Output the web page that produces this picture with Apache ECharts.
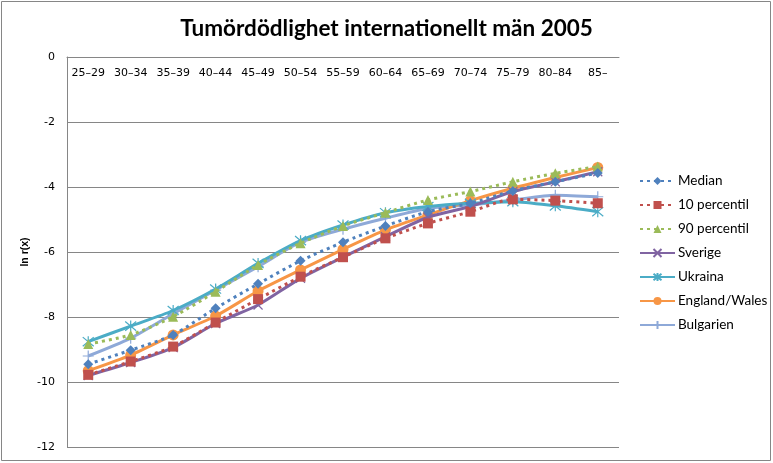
<!DOCTYPE html>
<html>
<head>
<meta charset="utf-8">
<script src="https://cdn.jsdelivr.net/npm/echarts@6/dist/echarts.min.js"></script>
<style>
html,body{margin:0;padding:0;background:#fff;}
#c{width:773px;height:463px;}
</style>
</head>
<body>
<div id="c"></div>
<script>
const categories = ['25–29','30–34','35–39','40–44','45–49','50–54','55–59','60–64','65–69','70–74','75–79','80–84','85–'];
const yTicks = [0,-2,-4,-6,-8,-10,-12];
const median   = [-9.45,-9.02,-8.55,-7.73,-6.98,-6.27,-5.70,-5.20,-4.76,-4.50,-4.12,-3.84,-3.57];
const p10      = [-9.78,-9.37,-8.91,-8.17,-7.45,-6.76,-6.16,-5.58,-5.12,-4.76,-4.38,-4.42,-4.50];
const p90      = [-8.83,-8.55,-7.99,-7.22,-6.40,-5.73,-5.20,-4.79,-4.40,-4.14,-3.84,-3.58,-3.37];
const sverige  = [-9.80,-9.40,-8.94,-8.20,-7.63,-6.81,-6.16,-5.53,-4.93,-4.60,-4.14,-3.84,-3.53];
const ukraina  = [-8.76,-8.28,-7.80,-7.14,-6.35,-5.65,-5.17,-4.79,-4.60,-4.50,-4.45,-4.58,-4.76];
const england  = [-9.65,-9.17,-8.55,-7.97,-7.20,-6.55,-5.92,-5.32,-4.86,-4.42,-4.04,-3.71,-3.40];
const bulgarien= [-9.20,-8.65,-7.90,-7.17,-6.45,-5.70,-5.30,-4.96,-4.66,-4.55,-4.40,-4.25,-4.30];

const names = ['Median','10 percentil','90 percentil','Sverige','Ukraina','England/Wales','Bulgarien'];
const colors = ['#4F81BD','#C0504D','#9BBB59','#8064A2','#4BACC6','#F79646','#8EA9D8'];
const dataSets = [median,p10,p90,sverige,ukraina,england,bulgarien];
const symbols = ['diamond','rect','triangle',
  'path://M0,0L10,10M10,0L0,10',
  'path://M0,0L10,10M10,0L0,10M5,-1L5,11',
  'circle',
  'path://M5,0L5,10M0,5L10,5'];
const sizes = [10,10,10,9,11,11,11];
const dotted = [true,true,true,false,false,false,false];

const series = dataSets.map((d,i)=>({
  name: names[i],
  type: 'line',
  data: d,
  smooth: 0.25,
  symbol: symbols[i],
  symbolSize: sizes[i],
  showAllSymbol: true,
  z: 10 - i,
  lineStyle: dotted[i] ? {color: colors[i], width: 3, type: [3,4]} : {color: colors[i], width: 3},
  itemStyle: {color: colors[i], borderColor: colors[i], borderWidth: (i===3||i===4||i===6) ? 1.2 : 0},
  emphasis: {disabled: true}
}));

const chart = echarts.init(document.getElementById('c'));
chart.setOption({
  animation: false,
  backgroundColor: '#fff',
  title: {
    text: 'Tumördödlighet internationellt män 2005',
    left: 'center', top: 12,
    textStyle: {fontFamily: 'Lato', fontWeight: 'bold', fontSize: 22.5, color: '#000'}
  },
  graphic: [{
    type: 'rect', shape: {x: 1.5, y: 1.5, width: 769, height: 459},
    style: {fill: 'none', stroke: '#868686', lineWidth: 1}, silent: true, z: 0
  }],
  grid: {left: 67, top: 57, right: 154, bottom: 16, containLabel: false},
  legend: {
    orient: 'vertical', left: 634, top: 169,
    itemWidth: 35, itemHeight: 10, itemGap: 10,
    data: names,
    textStyle: {fontFamily: 'Lato', fontSize: 13.5, color: '#000', padding: [0,0,0,-2]}
  },
  xAxis: {
    type: 'category', data: categories, position: 'top', boundaryGap: true,
    axisLine: {show: true, lineStyle: {color: '#868686', width: 1}},
    axisTick: {show: false},
    axisLabel: {inside: true, margin: 11, color: '#000', fontFamily: 'DejaVu Sans', fontSize: 11, interval: 0},
    splitLine: {show: false}
  },
  yAxis: {
    type: 'value', min: -12, max: 0, interval: 2,
    name: 'ln r(x)', nameLocation: 'middle', nameGap: 36, nameRotate: 90,
    nameMoveOverlap: false,
    nameTextStyle: {fontFamily: 'Liberation Sans', fontWeight: 'bold', fontSize: 10.5, color: '#000'},
    axisLine: {show: true, lineStyle: {color: '#868686', width: 1}},
    axisTick: {show: false},
    axisLabel: {color: '#000', fontFamily: 'DejaVu Sans', fontSize: 11, margin: 12},
    splitLine: {show: true, lineStyle: {color: '#868686', width: 1}}
  },
  series: series
});
</script>
</body>
</html>
